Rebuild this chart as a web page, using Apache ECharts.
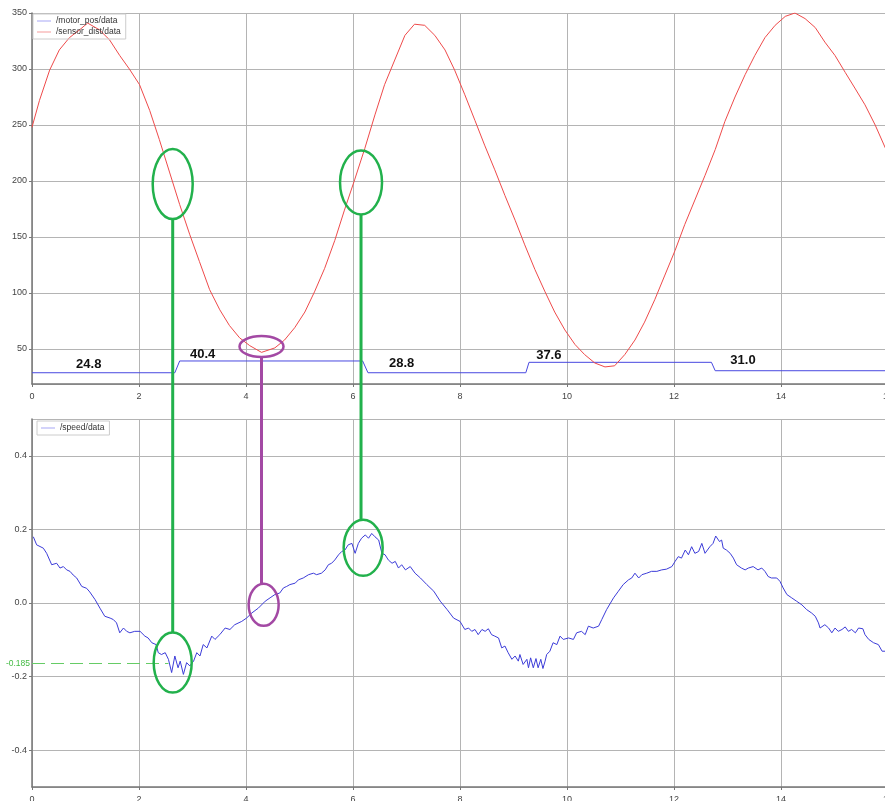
<!DOCTYPE html>
<html><head><meta charset="utf-8">
<script src="https://cdn.jsdelivr.net/npm/echarts@6/dist/echarts.min.js"></script>
<style>html,body{margin:0;padding:0;background:#fff}#c{width:885px;height:801px}</style>
</head><body><div id="c"></div>
<script>
// ---- data ----
const sensorX = [0,0.14,0.33,0.51,0.70,0.89,1.04,1.26,1.45,1.64,1.82,2.01,2.20,2.38,2.57,2.76,2.95,3.13,3.32,3.51,3.69,3.88,4.07,4.29,4.54,4.72,4.91,5.10,5.28,5.47,5.66,5.84,6.03,6.22,6.41,6.59,6.78,6.97,7.15,7.34,7.53,7.72,7.90,8.09,8.28,8.46,8.65,8.84,9.03,9.21,9.40,9.59,9.77,9.96,10.15,10.33,10.52,10.71,10.89,11.08,11.27,11.45,11.64,11.83,12.02,12.20,12.39,12.58,12.77,12.95,13.14,13.33,13.51,13.70,13.89,14.08,14.26,14.45,14.64,14.82,15.01,15.20,15.38,15.57,15.76,15.95];
const sensorY = [248,272,299,317,328,335,341,335,326,312,300,286,263,237,208,179,152,128,103,85,71,60,53,47,51,58,69,83,101,122,147,174,201,229,259,286,308,330,340,339,330,317,299,277,254,232,210,187,165,143,121,101,83,67,54,45,37.5,34,35,45,58,74,94,116,138,161,183,205,228,253,275,295,312,328,339,347,350,345,337,324,312,297,283,268,250,229.5];

const motorX = [0,2.67,2.76,6.18,6.28,9.23,9.29,12.70,12.77,15.95];
const motorY = [28.8,28.8,39.3,39.3,28.8,28.8,38.1,38.1,30.6,30.6];

const speedX = [0.025,0.087,0.212,0.274,0.368,0.461,0.523,0.586,0.648,0.71,0.77,0.835,0.93,1.02,1.08,1.18,1.27,1.36,1.46,1.52,1.58,1.64,1.71,1.77,1.83,1.92,2.02,2.11,2.17,2.24,2.32,2.36,2.42,2.49,2.55,2.61,2.67,2.73,2.77,2.83,2.89,2.95,3.02,3.08,3.14,3.2,3.27,3.36,3.42,3.51,3.61,3.7,3.79,3.92,4.01,4.11,4.23,4.36,4.45,4.54,4.63,4.7,4.76,4.82,4.92,4.98,5.07,5.17,5.26,5.32,5.41,5.48,5.54,5.6,5.66,5.73,5.79,5.85,5.91,5.98,6.04,6.1,6.16,6.23,6.29,6.35,6.41,6.48,6.54,6.6,6.66,6.73,6.79,6.85,6.91,6.98,7.07,7.16,7.26,7.38,7.51,7.63,7.76,7.88,8.0,8.09,8.16,8.22,8.28,8.34,8.41,8.47,8.53,8.59,8.65,8.72,8.78,8.84,8.9,8.97,9.03,9.09,9.12,9.18,9.25,9.28,9.32,9.37,9.42,9.46,9.51,9.55,9.59,9.62,9.68,9.74,9.81,9.87,9.93,10.03,10.12,10.18,10.27,10.34,10.4,10.49,10.59,10.65,10.74,10.87,10.96,11.05,11.15,11.21,11.27,11.34,11.4,11.49,11.58,11.68,11.77,11.86,11.96,12.02,12.08,12.14,12.21,12.27,12.33,12.39,12.46,12.52,12.58,12.67,12.73,12.78,12.85,12.89,12.92,12.98,13.05,13.11,13.17,13.26,13.33,13.39,13.48,13.57,13.64,13.7,13.76,13.82,13.92,13.98,14.04,14.11,14.2,14.29,14.39,14.48,14.57,14.64,14.7,14.73,14.82,14.89,14.95,15.01,15.07,15.14,15.2,15.26,15.32,15.39,15.45,15.53,15.57,15.64,15.73,15.82,15.89,15.95];
const speedY = [0.18,0.158,0.149,0.135,0.104,0.108,0.095,0.099,0.09,0.086,0.076,0.068,0.045,0.04,0.03,0.009,-0.014,-0.036,-0.041,-0.045,-0.054,-0.081,-0.068,-0.077,-0.081,-0.077,-0.077,-0.09,-0.095,-0.108,-0.113,-0.135,-0.14,-0.135,-0.153,-0.189,-0.144,-0.176,-0.158,-0.194,-0.162,-0.171,-0.158,-0.135,-0.144,-0.113,-0.122,-0.09,-0.099,-0.086,-0.068,-0.072,-0.059,-0.05,-0.041,-0.027,-0.014,0.005,0.014,0.023,0.027,0.041,0.045,0.05,0.054,0.063,0.068,0.077,0.081,0.077,0.081,0.09,0.104,0.108,0.117,0.131,0.14,0.144,0.158,0.162,0.135,0.162,0.176,0.185,0.176,0.189,0.18,0.171,0.135,0.131,0.117,0.108,0.113,0.095,0.104,0.09,0.099,0.081,0.068,0.05,0.032,0.005,-0.018,-0.041,-0.05,-0.072,-0.068,-0.077,-0.072,-0.086,-0.072,-0.077,-0.07,-0.086,-0.09,-0.095,-0.122,-0.117,-0.135,-0.153,-0.144,-0.158,-0.14,-0.167,-0.153,-0.176,-0.149,-0.176,-0.151,-0.176,-0.153,-0.178,-0.158,-0.14,-0.131,-0.108,-0.113,-0.09,-0.099,-0.095,-0.099,-0.081,-0.077,-0.086,-0.063,-0.068,-0.063,-0.045,-0.018,0.014,0.032,0.05,0.063,0.068,0.081,0.068,0.077,0.081,0.086,0.086,0.09,0.092,0.099,0.113,0.126,0.122,0.144,0.131,0.153,0.135,0.14,0.162,0.135,0.153,0.162,0.182,0.167,0.171,0.149,0.144,0.135,0.122,0.104,0.095,0.09,0.095,0.099,0.09,0.095,0.086,0.072,0.068,0.068,0.059,0.041,0.023,0.014,0.005,-0.005,-0.018,-0.027,-0.036,-0.054,-0.068,-0.059,-0.068,-0.081,-0.068,-0.077,-0.072,-0.065,-0.077,-0.072,-0.081,-0.068,-0.07,-0.086,-0.099,-0.108,-0.113,-0.131,-0.131];

// annotation labels on top plot [x, y, text]
const stepLabels = [[1.06,36.6,'24.8'],[3.19,45.5,'40.4'],[6.91,37.5,'28.8'],[9.66,44.6,'37.6'],[13.29,40.2,'31.0']];
// ellipses: [grid, x, y, rx, ry, color]
const ellipses = [
  [0,2.63,197.3,20,35,'g'],[0,6.15,198.7,21,32,'g'],[0,4.29,52.2,22,10.5,'p'],
  [1,2.63,-0.162,19,30,'g'],[1,6.19,0.15,19.5,28,'g'],[1,4.33,-0.005,15,21,'p']
];
// connectors: [top ellipse index, bottom ellipse index]
const links = [[0,3],[1,4],[2,5]];
const dashVal = -0.165, dashEnd = 2.55, dashText = '-0.185';

const zip = (a,b) => a.map((v,i)=>[v,b[i]]);
const GREEN = '#22b14c', PURPLE = '#a349a4';
const FONT = 'Liberation Sans, Arial, sans-serif';
const LINE_ICON = 'path://M0,0H20V1H0Z';

const axisCommon = {
  axisLine:{show:true,onZero:false,lineStyle:{color:'#777',width:1.5}},
  axisTick:{show:true,length:3,lineStyle:{color:'#777'}},
  axisLabel:{color:'#444',fontSize:9,fontFamily:FONT},
  splitLine:{show:true,lineStyle:{color:'#b4b4b4',width:1}}
};

const chart = echarts.init(document.getElementById('c'), null, {renderer:'canvas'});
chart.setOption({
  animation:false,
  backgroundColor:'#fff',
  textStyle:{fontFamily:FONT},
  grid:[
    {left:32,top:13,right:-3,height:371,containLabel:false,outerBoundsMode:'none'},
    {left:32,top:419,right:-3,height:368,containLabel:false,outerBoundsMode:'none'}
  ],
  legend:[
    {data:['/motor_pos/data','/sensor_dist/data'],orient:'vertical',left:33,top:14,icon:LINE_ICON,
     itemWidth:14,itemHeight:1.5,itemGap:1,padding:[2,5,2,4],borderColor:'#ccc',borderWidth:1,
     textStyle:{fontSize:8.5,color:'#333',fontFamily:FONT,lineHeight:10}},
    {data:['/speed/data'],orient:'vertical',left:37,top:421,icon:LINE_ICON,
     itemWidth:14,itemHeight:1.5,itemGap:1,padding:[2,5,2,4],borderColor:'#ccc',borderWidth:1,
     textStyle:{fontSize:8.5,color:'#333',fontFamily:FONT,lineHeight:10}}
  ],
  xAxis:[
    Object.assign({type:'value',gridIndex:0,min:0,max:16,interval:2},axisCommon),
    Object.assign({type:'value',gridIndex:1,min:0,max:16,interval:2},axisCommon)
  ],
  yAxis:[
    Object.assign({},axisCommon,{type:'value',gridIndex:0,min:18.75,max:350,splitNumber:7,
      axisLabel:Object.assign({},axisCommon.axisLabel,{showMinLabel:false,margin:5})}),
    Object.assign({},axisCommon,{type:'value',gridIndex:1,min:-0.5,max:0.5,splitNumber:5,
      axisLabel:Object.assign({},axisCommon.axisLabel,{showMinLabel:false,showMaxLabel:false,margin:5,
        formatter:v=>v.toFixed(1)})})
  ],
  series:[
    {name:'/motor_pos/data',type:'line',xAxisIndex:0,yAxisIndex:0,data:zip(motorX,motorY),
     symbol:'none',lineStyle:{color:'#4848e0',width:1},itemStyle:{color:'#8080f0'},z:3},
    {name:'/sensor_dist/data',type:'line',xAxisIndex:0,yAxisIndex:0,data:zip(sensorX,sensorY),
     symbol:'none',lineStyle:{color:'#ee4a4a',width:1},itemStyle:{color:'#f07070'},z:3},
    {name:'/speed/data',type:'line',xAxisIndex:1,yAxisIndex:1,data:zip(speedX,speedY),
     symbol:'none',lineStyle:{color:'#3c3cd8',width:1},itemStyle:{color:'#8080f0'},z:3,
     markLine:{silent:true,symbol:'none',animation:false,
       lineStyle:{color:'#66cc66',width:1,type:[13,6]},
       label:{show:true,position:'start',formatter:dashText,color:'#44bb44',fontSize:8.5,distance:2},
       data:[[{coord:[0,dashVal]},{coord:[dashEnd,dashVal]}]]}}
  ]
});

function buildGraphics(){
  const g = [];
  const ell = ellipses.map(e=>{
    const p = chart.convertToPixel({gridIndex:e[0]},[e[1],e[2]]);
    return {cx:p[0],cy:p[1],rx:e[3],ry:e[4],color:e[5]==='g'?GREEN:PURPLE};
  });
  links.forEach(l=>{
    const a = ell[l[0]], b = ell[l[1]];
    g.push({type:'line',z:100,shape:{x1:a.cx,y1:a.cy+a.ry,x2:a.cx,y2:b.cy-b.ry},
      style:{stroke:a.color,lineWidth:3}});
  });
  ell.forEach(e=>{
    g.push({type:'ellipse',z:100,shape:{cx:e.cx,cy:e.cy,rx:e.rx,ry:e.ry},
      style:{fill:null,stroke:e.color,lineWidth:2.5}});
  });
  stepLabels.forEach(s=>{
    const p = chart.convertToPixel({gridIndex:0},[s[0],s[1]]);
    g.push({type:'text',z:100,x:p[0],y:p[1],style:{text:s[2],fill:'#111',
      font:'bold 13px '+FONT,align:'center',verticalAlign:'middle'}});
  });
  chart.setOption({graphic:g});
}
buildGraphics();
</script>
</body></html>
